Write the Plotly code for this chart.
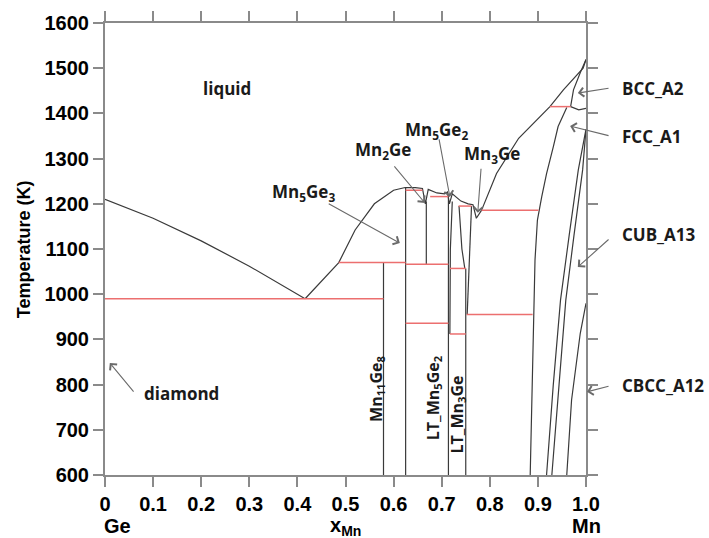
import plotly.graph_objects as go

# ---- phase boundaries (x_Mn, T in K) ----
liq_ge_x = [0.0, 0.10, 0.20, 0.30, 0.416]
liq_ge_t = [1210, 1168, 1118, 1062, 990]

liq_mid_x = [0.416, 0.486, 0.52, 0.56, 0.60, 0.624, 0.645, 0.660, 0.666, 0.672,
             0.690, 0.706, 0.712, 0.716, 0.722, 0.740, 0.755, 0.765, 0.772, 0.783]
liq_mid_t = [990, 1070, 1142, 1200, 1230, 1236, 1236, 1234, 1200, 1232,
             1224, 1222, 1226, 1200, 1222, 1206, 1200, 1198, 1168, 1186]

liq_mn_x = [0.783, 0.814, 0.860, 0.897, 0.925, 0.953, 0.994, 1.0]
liq_mn_t = [1186, 1267, 1345, 1385, 1415, 1452, 1500, 1519]

bcc_sol_x = [0.968, 0.974, 0.988, 1.0]
bcc_sol_t = [1415, 1452, 1490, 1519]
bcc_fcc_x = [0.968, 0.985, 1.0]
bcc_fcc_t = [1415, 1408, 1411]

fcc_sol_x = [0.960, 0.942, 0.932, 0.918, 0.908, 0.903, 0.899, 0.894, 0.884]
fcc_sol_t = [1413, 1371, 1326, 1267, 1216, 1186, 1164, 1076, 600]

cub_a_x = [1.0, 0.984, 0.965, 0.947, 0.932, 0.918]
cub_a_t = [1365, 1275, 1130, 987, 800, 600]
cub_b_x = [1.0, 0.993, 0.975, 0.958, 0.944, 0.929]
cub_b_t = [1365, 1275, 1130, 987, 800, 600]
cbcc_x = [1.0, 0.988, 0.970, 0.960]
cbcc_t = [980, 913, 766, 600]

# intermetallic compound boundaries
compounds = [
    ([0.579, 0.579], [600, 1070]),          # Mn11Ge8
    ([0.625, 0.625], [600, 1236]),          # Mn5Ge3
    ([0.668, 0.668], [1066, 1205]),         # Mn2Ge
    ([0.714, 0.714], [600, 1222]),          # Mn5Ge2
    ([0.722, 0.718, 0.717], [1205, 1100, 912]),
    ([0.736, 0.742, 0.748], [1195, 1100, 1057]),
    ([0.762, 0.758, 0.753], [1195, 1100, 955]),
    ([0.750, 0.750], [600, 1057]),          # LT_Mn3Ge
]

# invariant reactions: (x_start, x_end, T)
invariants = [
    (0.0, 0.579, 990),
    (0.486, 0.625, 1070),
    (0.625, 0.660, 1230),
    (0.676, 0.714, 1216),
    (0.735, 0.762, 1195),
    (0.783, 0.901, 1186),
    (0.925, 0.968, 1415),
    (0.625, 0.714, 1066),
    (0.717, 0.750, 1057),
    (0.625, 0.714, 936),
    (0.717, 0.750, 912),
    (0.752, 0.889, 955),
]

x_ticks = [0, 0.1, 0.2, 0.3, 0.4, 0.5, 0.6, 0.7, 0.8, 0.9, 1.0]
x_tick_text = ["0", "0.1", "0.2", "0.3", "0.4", "0.5", "0.6", "0.7", "0.8", "0.9", "1.0"]
y_ticks = [600, 700, 800, 900, 1000, 1100, 1200, 1300, 1400, 1500, 1600]

T_MIN, T_MAX = 600, 1600

BLACK = "#3a3a3a"
RED = "#ec6f6f"
AXIS = "#8a8a8a"

fig = go.Figure()

def add_line(xs, ts, color=BLACK, width=1.2):
    fig.add_trace(go.Scatter(x=xs, y=ts, mode="lines", hoverinfo="skip",
                             line=dict(color=color, width=width), showlegend=False))

for xs, ts in [(liq_ge_x, liq_ge_t), (liq_mid_x, liq_mid_t), (liq_mn_x, liq_mn_t),
               (bcc_sol_x, bcc_sol_t), (bcc_fcc_x, bcc_fcc_t), (fcc_sol_x, fcc_sol_t),
               (cub_a_x, cub_a_t), (cub_b_x, cub_b_t), (cbcc_x, cbcc_t)]:
    add_line(xs, ts)

for xs, ts in compounds:
    add_line(xs, ts)

for x0, x1, t in invariants:
    add_line([x0, x1], [t, t], color=RED, width=1.5)

LABEL_FONT = dict(family="Open Sans", size=17, color="#1a1a1a", weight="bold")

annotations = []

def to_frac(t):
    return (t - T_MIN) / (T_MAX - T_MIN)

def label(x, t, text, xanchor="center", angle=0, size=17):
    # paper coordinates so labels outside the axes are still drawn
    f = dict(LABEL_FONT)
    f["size"] = size
    annotations.append(dict(x=x, y=to_frac(t), xref="paper", yref="paper", text=text,
                            showarrow=False, xanchor=xanchor, yanchor="middle",
                            textangle=angle, font=f))

def arrow(x_tip, t_tip, x_tail, t_tail):
    annotations.append(dict(x=x_tip, y=to_frac(t_tip), ax=x_tail, ay=to_frac(t_tail),
                            xref="x domain", yref="y domain",
                            axref="x domain", ayref="y domain",
                            text="", showarrow=True, arrowhead=4,
                            arrowsize=1.6, arrowwidth=1.1, arrowcolor="#6a6a6a"))

label(0.254, 1456, "liquid")
label(0.160, 781, "diamond")
arrow(0.010, 848, 0.062, 781)
label(0.412, 1224, "Mn<sub>5</sub>Ge<sub>3</sub>")
arrow(0.613, 1113, 0.462, 1202)
label(0.578, 1319, "Mn<sub>2</sub>Ge")
arrow(0.665, 1202, 0.599, 1286)
label(0.690, 1363, "Mn<sub>5</sub>Ge<sub>2</sub>")
arrow(0.717, 1215, 0.694, 1346)
label(0.805, 1310, "Mn<sub>3</sub>Ge")
arrow(0.775, 1180, 0.782, 1281)
label(1.070, 1456, "BCC_A2", xanchor="left")
arrow(0.983, 1445, 1.050, 1456)
label(1.070, 1348, "FCC_A1", xanchor="left")
arrow(0.967, 1372, 1.050, 1350)
label(1.070, 1131, "CUB_A13", xanchor="left")
arrow(0.983, 1060, 1.050, 1124)
label(1.070, 799, "CBCC_A12", xanchor="left")
arrow(1.002, 784, 1.050, 797)

label(0.563, 790, "Mn<sub>11</sub>Ge<sub>8</sub>", angle=-90, size=16)
label(0.682, 770, "LT_Mn<sub>5</sub>Ge<sub>2</sub>", angle=-90, size=16)
label(0.733, 733, "LT_Mn<sub>3</sub>Ge", angle=-90, size=16)

AX_FONT = dict(family="Liberation Sans", size=20, color="black", weight="bold")
annotations.append(dict(x=0.027, y=to_frac(487), xref="paper", yref="paper", text="Ge",
                        showarrow=False, font=AX_FONT, xanchor="center", yanchor="middle"))
annotations.append(dict(x=1.0, y=to_frac(487), xref="paper", yref="paper", text="Mn",
                        showarrow=False, font=AX_FONT, xanchor="center", yanchor="middle"))
annotations.append(dict(x=0.499, y=to_frac(487), xref="paper", yref="paper",
                        text="x<sub>Mn</sub>", showarrow=False, font=AX_FONT,
                        xanchor="center", yanchor="middle"))
annotations.append(dict(x=-0.168, y=0.5, xref="paper", yref="paper",
                        text="Temperature (K)", showarrow=False, textangle=-90,
                        font=dict(family="Liberation Sans", size=18, color="black",
                                  weight="bold"),
                        xanchor="center", yanchor="middle"))

fig.update_layout(
    width=709, height=538,
    margin=dict(l=105, r=123, t=23, b=63),
    paper_bgcolor="white", plot_bgcolor="white",
    annotations=annotations,
    xaxis=dict(range=[0, 1], tickvals=x_ticks, ticktext=x_tick_text,
               showgrid=False, zeroline=False, showline=True, linecolor=AXIS,
               linewidth=2, mirror="ticks", ticks="outside", ticklen=10,
               tickwidth=1.5, tickcolor=AXIS, tickfont=AX_FONT),
    yaxis=dict(range=[T_MIN, T_MAX], tickvals=y_ticks,
               showgrid=False, zeroline=False, showline=True, linecolor=AXIS,
               linewidth=2, mirror="ticks", ticks="outside", ticklen=10,
               tickwidth=1.5, tickcolor=AXIS, tickfont=AX_FONT),
)

fig.write_html("out.html")
